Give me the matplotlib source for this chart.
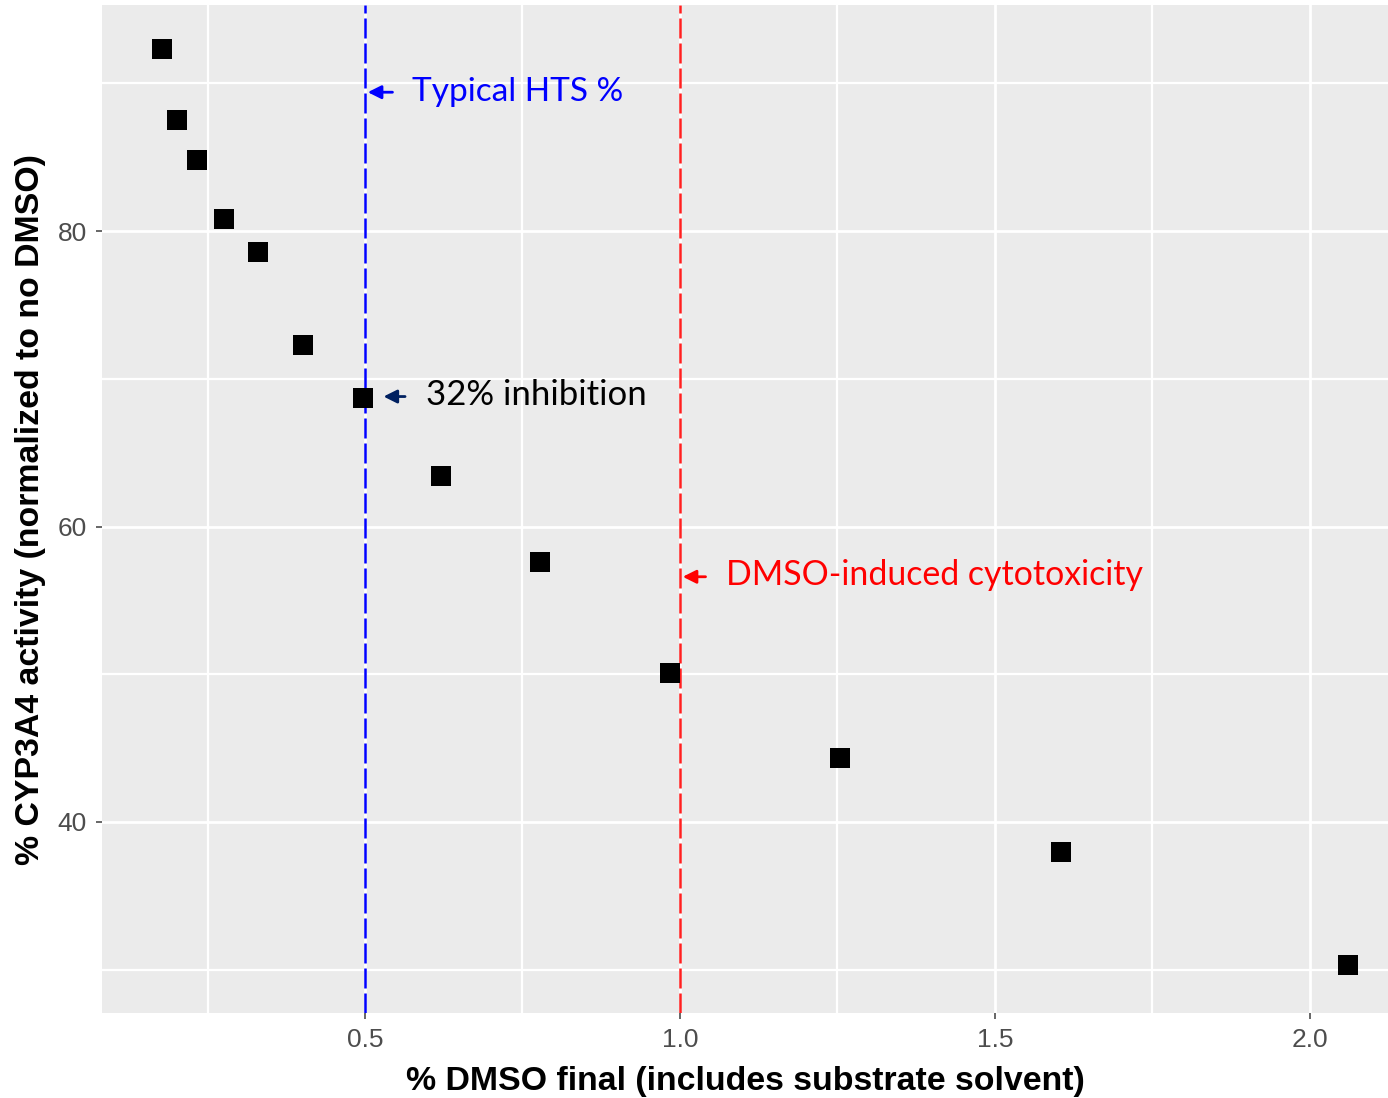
import matplotlib
matplotlib.use("Agg")
import matplotlib.pyplot as plt
from matplotlib.ticker import MultipleLocator

# Data
dmso_pct = [0.178, 0.202, 0.233, 0.276, 0.330, 0.402, 0.497,
            0.621, 0.778, 0.984, 1.254, 1.605, 2.060]
cyp3a4_activity = [92.3, 87.5, 84.8, 80.8, 78.6, 72.3, 68.7,
                   63.4, 57.6, 50.1, 44.3, 38.0, 30.3]

hts_line = 0.5
cytotox_line = 1.0
x_ticks = [0.5, 1.0, 1.5, 2.0]
y_ticks = [40, 60, 80]

panel_bg = "#EBEBEB"
tick_grey = "#4D4D4D"

fig = plt.figure(figsize=(13.88, 10.98), dpi=100)
ax = fig.add_axes([0.0735, 0.0774, 0.9265, 0.918])
ax.set_facecolor(panel_bg)

ax.set_xlim(0.0825, 2.124)
ax.set_ylim(27.07, 95.3)
ax.set_xticks(x_ticks)
ax.set_yticks(y_ticks)
ax.xaxis.set_minor_locator(MultipleLocator(0.25))
ax.yaxis.set_minor_locator(MultipleLocator(10))
ax.grid(which="major", color="white", linewidth=2.0)
ax.grid(which="minor", color="white", linewidth=1.6)
ax.set_axisbelow(True)
for s in ax.spines.values():
    s.set_visible(False)

ax.tick_params(which="major", length=4, width=1.2, color=tick_grey,
               labelcolor=tick_grey, labelsize=19, pad=7)
ax.tick_params(which="minor", length=0)
for lab in ax.get_xticklabels() + ax.get_yticklabels():
    lab.set_family("Liberation Sans")

ax.axvline(hts_line, color="#0000FF", linewidth=1.8, dashes=(8, 2))
ax.axvline(cytotox_line, color="#FF2020", linewidth=1.8, dashes=(8, 2))

ax.scatter(dmso_pct, cyp3a4_activity, marker="s", s=14 ** 2,
           color="black", zorder=3, linewidths=0)

# Annotations added on top of the plot
note_font = "Lato"
ax.annotate("", xy=(hts_line, 89.4), xytext=(hts_line + 0.048, 89.4),
            arrowprops=dict(arrowstyle="-|>", color="#0000FF", lw=2,
                            mutation_scale=20))
ax.text(hts_line + 0.075, 89.4, "Typical HTS %", color="#0000FF",
        fontsize=24, family=note_font, va="center", ha="left")

ax.annotate("", xy=(0.525, 68.8), xytext=(0.568, 68.8),
            arrowprops=dict(arrowstyle="-|>", color="#002060", lw=2,
                            mutation_scale=20))
ax.text(0.597, 68.9, "32% inhibition", color="black",
        fontsize=25, family=note_font, va="center", ha="left")

ax.annotate("", xy=(cytotox_line, 56.6), xytext=(cytotox_line + 0.045, 56.6),
            arrowprops=dict(arrowstyle="-|>", color="#FF0000", lw=2,
                            mutation_scale=20))
ax.text(cytotox_line + 0.073, 56.7, "DMSO-induced cytotoxicity", color="#FF0000",
        fontsize=24.4, family=note_font, va="center", ha="left")

ax.set_xlabel("% DMSO final (includes substrate solvent)", fontsize=24.4,
              fontweight="bold", family="Liberation Sans", labelpad=10)
ax.set_ylabel("% CYP3A4 activity (normalized to no DMSO)", fontsize=24.4,
              fontweight="bold", family="Liberation Sans", labelpad=8)

fig.savefig("out.png", dpi=100)
